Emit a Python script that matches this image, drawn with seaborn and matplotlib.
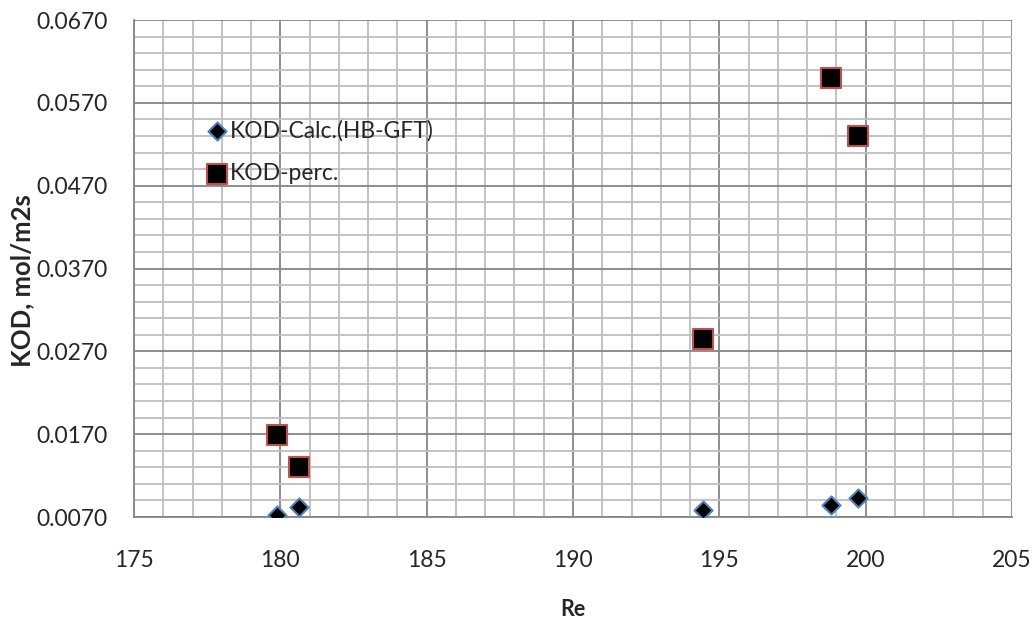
import numpy as np
import pandas as pd
import matplotlib
matplotlib.use("Agg")
import matplotlib.pyplot as plt
from matplotlib.ticker import MultipleLocator, FormatStrFormatter
import seaborn as sns

# data
re_vals = [179.9, 180.65, 194.45, 198.8, 199.75]
kod_calc = [0.0073, 0.0082, 0.0079, 0.0084, 0.0093]
kod_perc = [0.0169, 0.0130, 0.0285, 0.0600, 0.0530]

calc_label = "KOD-Calc.(HB-GFT)"
perc_label = "KOD-perc."

df = pd.DataFrame({
    "Re": re_vals * 2,
    "KOD": kod_calc + kod_perc,
    "series": [calc_label] * len(re_vals) + [perc_label] * len(re_vals),
})

sns.set_style("white")
plt.rcParams["font.family"] = ["Lato", "DejaVu Sans"]

fig = plt.figure(figsize=(10.35, 6.22), dpi=100)
ax = fig.add_axes([134 / 1035, 1 - 517 / 622, (1012 - 134) / 1035, (517 - 20) / 622])

major_c = "#868686"
minor_c = "#bebebe"

ax.set_xlim(175, 205)
ax.set_ylim(0.007, 0.067)
ax.xaxis.set_major_locator(MultipleLocator(5))
ax.xaxis.set_minor_locator(MultipleLocator(1))
ax.yaxis.set_major_locator(MultipleLocator(0.01, offset=0.007))
ax.yaxis.set_minor_locator(MultipleLocator(0.002, offset=0.001))
ax.yaxis.set_major_formatter(FormatStrFormatter("%.4f"))
ax.grid(which="major", color=major_c, linewidth=1.3, zorder=0)
ax.grid(which="minor", color=minor_c, linewidth=1.3, zorder=0)
ax.set_axisbelow(True)

sns.scatterplot(data=df[df["series"] == calc_label], x="Re", y="KOD", ax=ax,
                marker="D", s=85, color="black", edgecolor="#4f81bd",
                linewidth=1.5, label=calc_label, zorder=3)
sns.scatterplot(data=df[df["series"] == perc_label], x="Re", y="KOD", ax=ax,
                marker="s", s=200, color="black", edgecolor="#c0504d",
                linewidth=1.5, label=perc_label, zorder=3)

for side in ["left", "bottom"]:
    ax.spines[side].set_color(major_c)
    ax.spines[side].set_linewidth(1.3)
for side in ["top", "right"]:
    ax.spines[side].set_visible(False)

ax.tick_params(axis="both", which="major", direction="out", length=6,
               width=1.3, color=major_c, labelsize=16.5)
ax.tick_params(axis="y", which="major", pad=13)
ax.tick_params(axis="x", which="major", pad=17.5)
ax.tick_params(axis="both", which="minor", length=0)

ax.set_xlabel("Re", fontsize=15.5, fontweight="bold", va="center")
ax.xaxis.set_label_coords(0.5, (517 - 609) / 497)
ax.set_ylabel("KOD, mol/m2s", fontsize=18.5, fontweight="bold", va="center")
ax.yaxis.set_label_coords((22 - 134) / 878, 0.475)

leg = ax.legend(loc="upper left", bbox_to_anchor=(0.0716, 0.818), frameon=False,
                fontsize=16.5, handletextpad=0.05, labelspacing=0.94,
                handlelength=1.0, borderaxespad=0)

fig.savefig("out.png", dpi=100)
